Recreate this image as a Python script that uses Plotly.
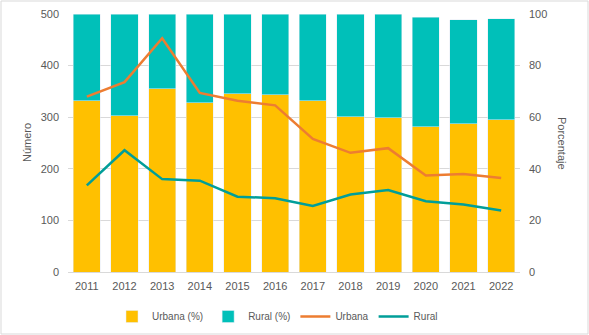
import plotly.graph_objects as go

years = ["2011", "2012", "2013", "2014", "2015", "2016", "2017", "2018", "2019", "2020", "2021", "2022"]
urbana_pct = [66.4, 60.6, 71.0, 65.6, 69.1, 68.7, 66.4, 60.2, 59.8, 56.3, 57.5, 59.0]
rural_pct = [33.6, 39.4, 29.0, 34.4, 30.9, 31.3, 33.6, 39.8, 40.2, 42.5, 40.2, 39.1]
urbana_n = [340, 368, 453, 347, 332, 323, 258, 231, 240, 187, 190, 182]
rural_n = [168, 236, 180, 177, 146, 143, 128, 150, 159, 137, 131, 119]

grey = "#595959"
fig = go.Figure()
fig.add_trace(go.Bar(x=years, y=urbana_pct, name="Urbana (%)", marker_color="#FFC000", yaxis="y"))
fig.add_trace(go.Bar(x=years, y=rural_pct, name="Rural (%)", marker_color="#00C0B9", yaxis="y"))
fig.add_trace(go.Scatter(x=years, y=urbana_n, name="Urbana", mode="lines",
                         line=dict(color="#ED7D31", width=2.5), yaxis="y2"))
fig.add_trace(go.Scatter(x=years, y=rural_n, name="Rural", mode="lines",
                         line=dict(color="#009E99", width=2.5), yaxis="y2"))

L, R, T, B = 68, 69, 14, 63
W, H = 589, 335
pw, ph = W - L - R, H - T - B

fig.update_layout(
    width=W, height=H,
    margin=dict(l=L, r=R, t=T, b=B, autoexpand=False),
    barmode="stack", bargap=0.28,
    plot_bgcolor="white", paper_bgcolor="white",
    font=dict(family="Liberation Sans, Arial", size=11, color=grey),
    xaxis=dict(showgrid=False, showline=True, linecolor="#D9D9D9", ticks="",
               tickfont=dict(size=11, color=grey), ticklabelstandoff=4),
    yaxis=dict(side="right", range=[0, 100], tickvals=[0, 20, 40, 60, 80, 100],
               showgrid=True, gridcolor="#D9D9D9", zeroline=False,
               tickfont=dict(size=11, color=grey), ticklabelstandoff=8),
    yaxis2=dict(side="left", overlaying="y", range=[0, 500],
                tickvals=[0, 100, 200, 300, 400, 500], showgrid=False, zeroline=False,
                tickfont=dict(size=11, color=grey), ticklabelstandoff=8),
    legend=dict(orientation="h", x=(112 - L) / pw, xanchor="left", y=-(302 - T - ph) / ph,
                yanchor="top", itemwidth=30,
                font=dict(size=10, color=grey), traceorder="normal"),
    showlegend=True,
    annotations=[
        dict(text="Número", xref="paper", yref="paper", x=-41 / pw, y=0.5, xanchor="center",
             yanchor="middle", showarrow=False, textangle=-90, font=dict(size=11, color=grey)),
        dict(text="Porcentaje", xref="paper", yref="paper", x=1 + 42 / pw, y=0.5, xanchor="center",
             yanchor="middle", showarrow=False, textangle=90, font=dict(size=11, color=grey)),
    ],
    shapes=[dict(type="rect", xref="paper", yref="paper",
                 x0=-(L - 1) / pw, x1=1 + (R - 1) / pw,
                 y0=-(B - 1) / ph, y1=1 + (T - 1) / ph,
                 line=dict(color="#D9D9D9", width=1), layer="below")],
)

fig.write_html("out.html")
